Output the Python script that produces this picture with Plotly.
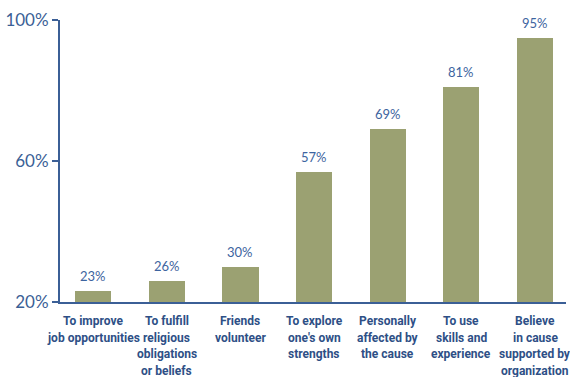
import plotly.graph_objects as go

# Reasons for volunteering, share of respondents (%)
categories = [
    ["To improve", "job opportunities"],
    ["To fulfill", "religious", "obligations", "or beliefs"],
    ["Friends", "volunteer"],
    ["To explore", "one's own", "strengths"],
    ["Personally", "affected by", "the cause"],
    ["To use", "skills and", "experience"],
    ["Believe", "in cause", "supported by", "organization"],
]
values = [23, 26, 30, 57, 69, 81, 95]
y_ticks = [20, 60, 100]
y_tick_labels = ["20%", "60%", "100%"]

BAR = "#9ba172"
AXIS = "#3b5f96"
VALUE_TXT = "#3d64a0"
CAT_TXT = "#2e4f86"

x = list(range(len(values)))

fig = go.Figure(
    go.Bar(
        x=x,
        y=values,
        base=0,
        marker=dict(color=BAR, line=dict(width=0)),
        width=0.49,
        cliponaxis=False,
        hoverinfo="skip",
    )
)

# value labels above each bar
for xi, v in zip(x, values):
    fig.add_annotation(
        x=xi, y=v, xref="x", yref="y",
        yanchor="bottom", yshift=5,
        text=f"{v}%", showarrow=False,
        font=dict(family="Lato, Open Sans, sans-serif", size=13, color=VALUE_TXT),
    )

# category names under the axis, one annotation per line for even spacing
for xi, lines in zip(x, categories):
    for i, line in enumerate(lines):
        fig.add_annotation(
            x=xi, y=0, xref="x", yref="paper",
            yanchor="top", yshift=-10 - 16.5 * i,
            text=f"<b>{line}</b>", showarrow=False,
            font=dict(family="Roboto, sans-serif", size=12, color=CAT_TXT),
        )

fig.update_layout(
    width=570,
    height=377,
    margin=dict(l=60, r=4, t=20, b=75),
    paper_bgcolor="white",
    plot_bgcolor="white",
    showlegend=False,
    bargap=0,
)

fig.update_xaxes(
    tickmode="array",
    tickvals=x,
    showticklabels=False,
    range=[-0.45, 6.42],
    showline=True,
    linecolor=AXIS,
    linewidth=2,
    ticks="",
    showgrid=False,
    zeroline=False,
    fixedrange=True,
)

fig.update_yaxes(
    range=[20, 100],
    tickmode="array",
    tickvals=y_ticks,
    ticktext=y_tick_labels,
    tickfont=dict(family="Lato, Open Sans, sans-serif", size=17, color=AXIS),
    showline=True,
    linecolor=AXIS,
    linewidth=2,
    ticks="outside",
    ticklen=6,
    tickwidth=2,
    tickcolor=AXIS,
    showgrid=False,
    zeroline=False,
    fixedrange=True,
    automargin=False,
)

fig.write_html("out.html")
